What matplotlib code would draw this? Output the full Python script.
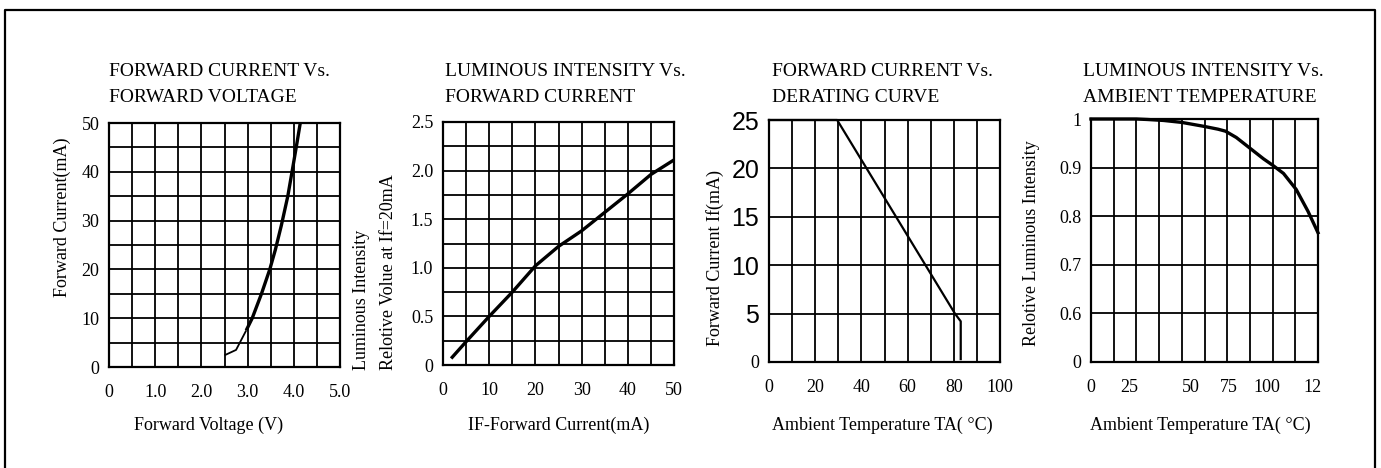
import matplotlib
matplotlib.use("Agg")
import matplotlib.pyplot as plt
from matplotlib.ticker import MultipleLocator, FixedLocator
from matplotlib.lines import Line2D

# ---------------- data ----------------
# Panel 1: forward current vs forward voltage
vf_volts = [2.5, 2.75, 2.97, 3.1, 3.3, 3.48, 3.6, 3.73, 3.87, 3.98, 4.07, 4.14]
if_ma = [2.4, 3.5, 7.5, 10, 15, 20, 24, 29, 35, 41, 46, 50]
p1_xticks = [0, 1, 2, 3, 4, 5]
p1_xticklabels = ["0", "1.0", "2.0", "3.0", "4.0", "5.0"]
p1_yticks = [0, 10, 20, 30, 40, 50]

# Panel 2: luminous intensity vs forward current
if2_ma = [2, 5, 10, 15, 20, 25, 30, 35, 40, 45, 50]
rel_lum2 = [0.08, 0.24, 0.5, 0.75, 1.02, 1.22, 1.38, 1.57, 1.76, 1.96, 2.11]
p2_xticks = [0, 10, 20, 30, 40, 50]
p2_yticks = [0, 0.5, 1.0, 1.5, 2.0, 2.5]
p2_yticklabels = ["0", "0.5", "1.0", "1.5", "2.0", "2.5"]

# Panel 3: derating curve
ta3 = [0, 29.5, 80.5, 83, 83]
if3_ma = [25, 25, 5, 4.2, 0.3]
p3_xticks = [0, 20, 40, 60, 80, 100]
p3_yticks = [0, 5, 10, 15, 20, 25]

# Panel 4: luminous intensity vs ambient temperature
ta4 = [0, 25, 31, 40, 50, 62, 70, 74, 80, 87.5, 95, 100, 106, 113, 119.5, 125]
rel_lum4 = [1.0, 1.0, 0.999, 0.997, 0.993, 0.985, 0.979, 0.975, 0.962, 0.94,
            0.918, 0.905, 0.888, 0.855, 0.81, 0.766]
p4_xtick_pos = [0, 21, 55, 76, 97, 122]
p4_xticklabels = ["0", "25", "50", "75", "100", "12"]
p4_yticks = [0.5, 0.6, 0.7, 0.8, 0.9, 1.0]
p4_yticklabels = ["0", "0.6", "0.7", "0.8", "0.9", "1"]

titles = [("FORWARD CURRENT Vs.", "FORWARD VOLTAGE"),
          ("LUMINOUS INTENSITY Vs.", "FORWARD CURRENT"),
          ("FORWARD CURRENT Vs.", "DERATING CURVE"),
          ("LUMINOUS INTENSITY Vs.", "AMBIENT TEMPERATURE")]
xlabels = ["Forward Voltage (V)", "IF-Forward Current(mA)",
           "Ambient Temperature TA( \u00b0C)", "Ambient Temperature TA( \u00b0C)"]

# ---------------- layout ----------------
W, H = 1381, 468
fig = plt.figure(figsize=(W / 100, H / 100), dpi=100)
fig.patch.set_facecolor("white")

SERIF = "Liberation Serif"
SANS = "Liberation Sans"
TFS = 14     # title size
LFS = 13     # label size
KFS = 13     # tick size

# axes boxes in pixels: left, right, top, bottom
boxes = [(109, 340, 123, 367), (443, 674, 122, 365),
         (769, 1000, 120, 362), (1091, 1318, 119, 362)]
title_x = [109, 445, 772, 1083]
xlabel_x = [209, 559, 882, 1200]


def rect(l, r, t, b):
    return [l / W, 1 - b / H, (r - l) / W, (b - t) / H]


axes = []
for i, (l, r, t, b) in enumerate(boxes):
    ax = fig.add_axes(rect(l, r, t, b))
    for s in ax.spines.values():
        s.set_linewidth(1.6)
        s.set_color("black")
    ax.tick_params(which="both", length=0, labelsize=KFS, pad=7)
    ax.tick_params(axis="x", which="both", pad=12)
    ax.xaxis.remove_overlapping_locs = False
    ax.yaxis.remove_overlapping_locs = False
    axes.append(ax)
    fig.text(title_x[i] / W, 1 - 71 / H, titles[i][0], fontsize=TFS,
             family=SERIF, ha="left", va="center")
    fig.text(title_x[i] / W, 1 - 98 / H, titles[i][1], fontsize=TFS,
             family=SERIF, ha="left", va="center")
    fig.text(xlabel_x[i] / W, 1 - 425 / H, xlabels[i], fontsize=LFS,
             family=SERIF, ha="center", va="center")


def grid(ax, xstep, ystep):
    ax.xaxis.set_minor_locator(MultipleLocator(xstep))
    ax.yaxis.set_minor_locator(MultipleLocator(ystep))
    ax.grid(which="minor", color="black", linewidth=1.3)
    ax.grid(which="major", visible=False)
    ax.set_axisbelow(True)


# Panel 1
ax = axes[0]
ax.set_xlim(0, 5)
ax.set_ylim(0, 50)
grid(ax, 0.5, 5)
ax.plot(vf_volts[:3], if_ma[:3], color="black", lw=1.3, solid_capstyle="butt")
ax.plot(vf_volts[2:], if_ma[2:], color="black", lw=2.4, solid_capstyle="butt")
ax.set_xticks(p1_xticks)
ax.set_xticklabels(p1_xticklabels, family=SERIF)
ax.set_yticks(p1_yticks)
ax.set_yticklabels([str(v) for v in p1_yticks], family=SERIF)
fig.text(62 / W, 1 - 217 / H, "Forward Current(mA)", rotation=90, fontsize=LFS,
         family=SERIF, ha="center", va="center")

# Panel 2
ax = axes[1]
ax.set_xlim(0, 50)
ax.set_ylim(0, 2.5)
grid(ax, 5, 0.25)
ax.plot(if2_ma, rel_lum2, color="black", lw=2.4)
ax.set_xticks(p2_xticks)
ax.set_xticklabels([str(v) for v in p2_xticks], family=SERIF)
ax.set_yticks(p2_yticks)
ax.set_yticklabels(p2_yticklabels, family=SERIF)
fig.text(362 / W, 1 - 370 / H, "Luminous Intensity", rotation=90, fontsize=LFS,
         family=SERIF, ha="center", va="bottom")
fig.text(388 / W, 1 - 370 / H, "Relotive Volue at If=20mA", rotation=90,
         fontsize=LFS, family=SERIF, ha="center", va="bottom")

# Panel 3
ax = axes[2]
ax.set_xlim(0, 100)
ax.set_ylim(0, 25)
grid(ax, 10, 5)
ax.plot(ta3, if3_ma, color="black", lw=1.6, clip_on=False)
ax.set_xticks(p3_xticks)
ax.set_xticklabels([str(v) for v in p3_xticks], family=SERIF)
ax.set_yticks(p3_yticks)
ylabs = ax.set_yticklabels([str(v) for v in p3_yticks])
for j, tl in enumerate(ylabs):
    if j == 0:
        tl.set_family(SERIF)
    else:
        tl.set_family(SANS)
        tl.set_fontsize(18)
fig.text(715 / W, 1 - 258 / H, "Forward Current If(mA)", rotation=90,
         fontsize=LFS, family=SERIF, ha="center", va="center")

# Panel 4
ax = axes[3]
ax.set_xlim(0, 125)
ax.set_ylim(0.5, 1.0)
grid(ax, 12.5, 0.1)
ax.plot(ta4, rel_lum4, color="black", lw=2.4, clip_on=False)
ax.xaxis.set_major_locator(FixedLocator(p4_xtick_pos))
ax.set_xticklabels(p4_xticklabels, family=SERIF)
ax.set_yticks(p4_yticks)
ax.set_yticklabels(p4_yticklabels, family=SERIF)
fig.text(1032 / W, 1 - 243 / H, "Relotive Luminous Intensity", rotation=90,
         fontsize=LFS, family=SERIF, ha="center", va="center")

# outer frame (open at bottom)
frame_x = [5 / W, 5 / W, 1375 / W, 1375 / W]
frame_y = [0, 1 - 10 / H, 1 - 10 / H, 0]
fig.add_artist(Line2D(frame_x, frame_y, color="black", lw=1.6,
                      transform=fig.transFigure))

fig.savefig("out.png", dpi=100)
